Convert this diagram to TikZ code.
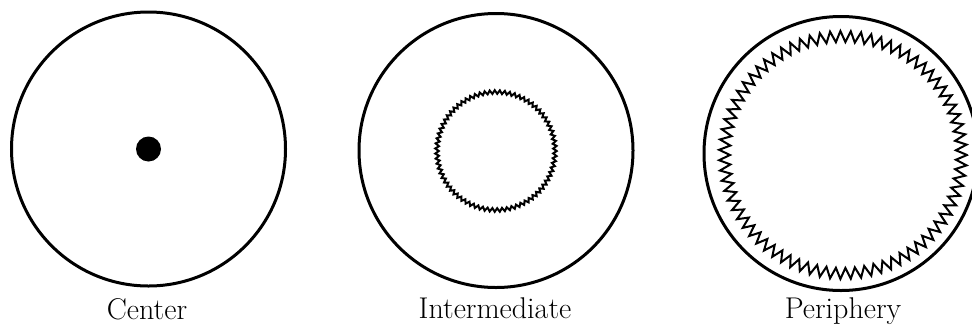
\documentclass[tikz,border=0pt]{standalone}
\usetikzlibrary{positioning}

\tikzset{
  ring/.style={circle, draw, line width=3pt, inner sep=0pt, minimum size=274pt},
  caption/.style={anchor=base, font=\fontsize{30}{36}\selectfont},
  wavy/.style={line width=2pt, line join=miter}
}

\begin{document}
\begin{tikzpicture}[x=1pt, y=-1pt]
            \useasboundingbox (0,0) rectangle (972,333);

            % center
            \node[ring] (centerring) at (148.5,149) {};
            \node[circle, fill, inner sep=0pt, minimum size=25pt] (centerdot) at (centerring.center) {};
            \node[caption] (centerlabel) at (147,319) {Center};

            % intermediate
            \node[ring] (midring) at (496,150.5) {};
            \coordinate (midzig) at (496,151);
            \draw[wavy, shift={(midzig)}] plot[domain=0:150, samples=151] ({\x*2.4}:{59+1.8*cos(180*mod(\x,2))}) -- cycle;
            \node[caption] (midlabel) at (495,318) {Intermediate};

            % periphery
            \node[ring] (perring) at (841,153.5) {};
            \coordinate (perzig) at (843,155);
            \draw[wavy, shift={(perzig)}] plot[domain=0:150, samples=151] ({\x*2.4}:{118.5+5.5*cos(180*mod(\x,2))}) -- cycle;
            \node[caption] (perlabel) at (843,318) {Periphery};
        \end{tikzpicture}
\end{document}
